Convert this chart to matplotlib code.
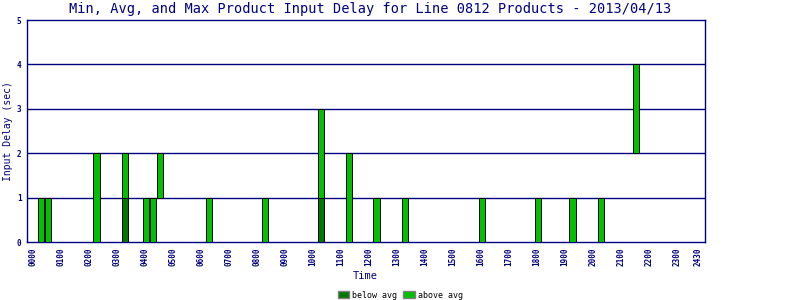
import numpy as np
import matplotlib
matplotlib.use("Agg")
import matplotlib.pyplot as plt
from matplotlib.patches import Patch

# Data: slot time (hours), min / avg / max input delay (sec)
times = [0.29, 0.54, 2.27, 3.29, 4.04, 4.29, 4.54, 6.29, 8.29, 10.29,
         11.29, 12.27, 13.29, 16.04, 18.04, 19.27, 20.29, 21.54]
mins = [0, 0, 0, 0, 0, 0, 1, 0, 0, 0, 0, 0, 0, 0, 0, 0, 0, 2]
avgs = [0, 0, 0, 1, 0, 0, 1, 0, 0, 1, 0, 0, 0, 0, 0, 0, 0, 2]
maxs = [1, 1, 2, 2, 1, 1, 2, 1, 1, 3, 2, 1, 1, 1, 1, 1, 1, 4]

tick_pos = list(range(24)) + [23.75]
tick_labels = ["%02d00" % h for h in range(24)] + ["2430"]

navy = "#000080"
dark = "#007800"
light = "#00C000"
mono = "DejaVu Sans Mono"

fig = plt.figure(figsize=(8, 3), dpi=100)
ax = fig.add_axes([27/800, 58/300, 678/800, 222/300])

t = np.array(times)
mn = np.array(mins, float)
av = np.array(avgs, float)
mx = np.array(maxs, float)
w = 0.24

sel = (av - mn) > 0
ax.bar(t[sel], (av - mn)[sel], bottom=mn[sel], width=w, color=dark,
       edgecolor="black", linewidth=0.7, zorder=3)
sel2 = (mx - av) > 0
ax.bar(t[sel2], (mx - av)[sel2], bottom=av[sel2], width=w, color=light,
       edgecolor="black", linewidth=0.7, zorder=3)

for y in [1, 2, 3, 4]:
    ax.axhline(y, color=navy, linewidth=1, zorder=1)

ax.set_xlim(-0.214, 24.0)
ax.set_ylim(0, 5)
ax.set_yticks([0, 1, 2, 3, 4, 5])
ax.set_yticklabels(["0", "1", "2", "3", "4", "5"], fontsize=5.5,
                   family=mono, fontweight="bold", color=navy)
ax.set_xticks(tick_pos)
ax.set_xticklabels(tick_labels, rotation=90, fontsize=5.5, family=mono,
                   fontweight="bold", color=navy)
ax.tick_params(axis="both", length=0, pad=4)
for s in ax.spines.values():
    s.set_color(navy)
    s.set_linewidth(1.0)

ax.set_xlabel("Time", fontsize=7.5, family=mono, color=navy)
ax.xaxis.set_label_coords((365 - 27) / 678, (242 - 271) / 222)
ax.set_ylabel("Input Delay (sec)", fontsize=7, family=mono, color=navy)
ax.yaxis.set_label_coords((13 - 27) / 678, 0.5)
fig.text(370/800, 1 - 9/300,
         "Min, Avg, and Max Product Input Delay for Line 0812 Products - 2013/04/13",
         ha="center", va="center", fontsize=9.8, family=mono, color=navy)

handles = [Patch(facecolor=dark, edgecolor="#808080", label="below avg"),
           Patch(facecolor=light, edgecolor="#808080", label="above avg")]
fig.legend(handles=handles, loc="center", bbox_to_anchor=(400/800, 1 - 295/300),
           ncol=2, frameon=False, prop={"family": mono, "size": 6},
           handlelength=1.4, handleheight=0.9, handletextpad=0.3,
           columnspacing=0.8, borderpad=0)

fig.savefig("out.png", dpi=100)
